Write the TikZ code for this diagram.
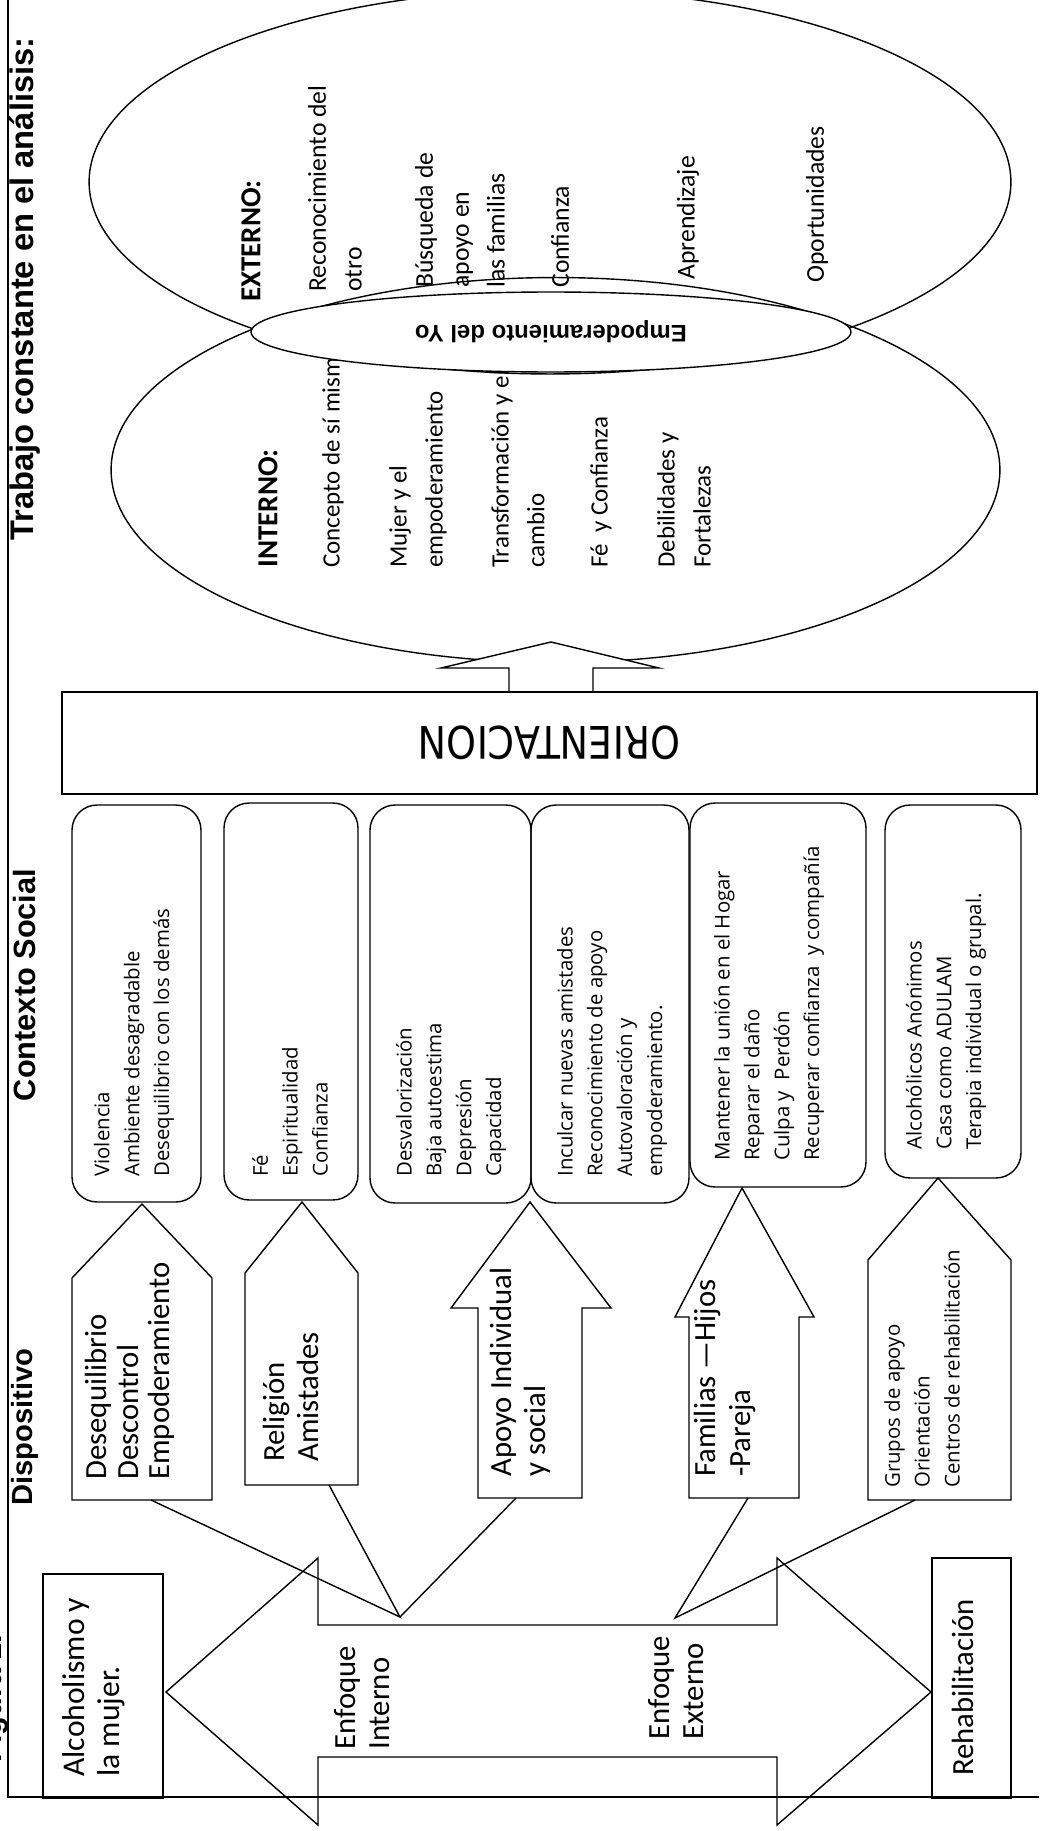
\documentclass[tikz,border=0pt]{standalone}
\usepackage{fontspec}
\setmainfont{Carlito}
\newfontfamily\listfont{Open Sans}
\newfontfamily\headfont{Liberation Sans}
\newfontfamily\orifont{DejaVu Sans}[FakeStretch=0.85]
\usetikzlibrary{shapes.geometric,positioning}
\tikzstyle{outline} = [draw=black, line width=0.8pt, line join=miter]
\tikzstyle{ctxbox} = [rectangle, rounded corners=0.5cm, draw=black, line width=0.8pt]
\tikzstyle{plainbox} = [rectangle, draw=black, line width=0.8pt]
\tikzstyle{bigoval} = [ellipse, draw=black, line width=0.8pt, inner sep=0pt]
\tikzstyle{uptext} = [rotate=90, anchor=west, align=left, inner sep=0pt]
\tikzstyle{listtext} = [uptext, font=\listfont\fontsize{11.6}{17}\selectfont]
\tikzstyle{ovaltext} = [uptext, font=\fontsize{14.6}{20.4}\selectfont]
\tikzstyle{ovalhead} = [uptext, font=\bfseries\fontsize{16.5}{20.4}\selectfont]
\tikzstyle{bigtext} = [uptext, font=\fontsize{17.5}{19.5}\selectfont]
\tikzstyle{headtext} = [rotate=90, inner sep=0pt, font=\headfont\bfseries\fontsize{17.5}{20}\selectfont]

\begin{document}
\begin{tikzpicture}[x=0.02cm, y=-0.02cm]
    \useasboundingbox (0,0) rectangle (1039,1831);
    % headings
    \node[headtext, font=\headfont\bfseries\fontsize{18.6}{22}\selectfont] (titulo) at (25,289) {Trabajo constante en el análisis:};
    \node[headtext] (contexto) at (25,985) {Contexto Social};
    \node[headtext, font=\headfont\bfseries\fontsize{16.6}{20}\selectfont] (dispositivo) at (25,1427) {Dispositivo};
    \node[headtext, anchor=base west] (figura) at (2,1763) {Figura 1.};

    % ovals
    \node[bigoval, minimum width=18.44cm, minimum height=7.68cm] (externo) at (550,182) {};
    \node[bigoval, minimum width=17.78cm, minimum height=7.7cm] (interno) at (555.5,470) {};
    \node[ovalhead] (extTitle) at (251,302) {EXTERNO:};
    \node[ovaltext] (extA) at (335,292) {Reconocimiento del\\otro};
    \node[ovaltext] (extB) at (460,288) {Búsqueda de\\apoyo en\\las familias};
    \node[ovaltext] (extC) at (560,288) {Confianza};
    \node[ovaltext] (extD) at (688,280) {Aprendizaje};
    \node[ovaltext] (extE) at (817,283) {Oportunidades};
    \node[ovalhead] (intTitle) at (268,568) {INTERNO:};
    \node[ovaltext, font=\fontsize{14.2}{20.4}\selectfont] (intA) at (333,568) {Concepto de sí mism};
    \node[ovaltext, font=\fontsize{14.2}{20.4}\selectfont] (intB) at (418,568) {Mujer y el\\empoderamiento};
    \node[ovaltext, font=\fontsize{14.2}{20.4}\selectfont] (intC) at (518,568) {Transformación y el\\cambio};
    \node[ovaltext, font=\fontsize{14.2}{20.4}\selectfont] (intD) at (601,568) {Fé\ \ y Confianza};
    \node[ovaltext, font=\fontsize{14.2}{20.4}\selectfont] (intE) at (684,568) {Debilidades y\\Fortalezas};
    \node[bigoval, fill=white, rotate=180, minimum width=12cm, minimum height=1.6cm, font=\headfont\bfseries\fontsize{13.6}{16}\selectfont] (yo) at (551,332) {Empoderamiento del Yo};

    % orientacion
    \draw[outline, fill=white] (509,692) -- (509,668) -- (441,668) -- (551,642) -- (659,668) -- (593,668) -- (593,692);
    \node[plainbox, rotate=180, minimum width=19.5cm, minimum height=2.04cm, font=\orifont\fontsize{25.5}{30}\selectfont] (orientacion) at (549.5,743) {ORIENTACION};

    % contexto social
    \node[ctxbox, minimum width=2.58cm, minimum height=7.94cm] (ctxA) at (136.5,1003.5) {};
    \node[ctxbox, minimum width=2.68cm, minimum height=7.94cm] (ctxB) at (291,1001.5) {};
    \node[ctxbox, minimum width=3.22cm, minimum height=7.96cm] (ctxC) at (450.5,1004) {};
    \node[ctxbox, minimum width=3.16cm, minimum height=7.96cm] (ctxD) at (610,1004) {};
    \node[ctxbox, minimum width=3.52cm, minimum height=7.68cm] (ctxE) at (778,995) {};
    \node[ctxbox, minimum width=2.72cm, minimum height=7.46cm] (ctxF) at (953,991.5) {};
    \node[listtext] (ctxAtext) at (134,1177) {Violencia\\Ambiente desagradable\\Desequilibrio con los demás};
    \node[listtext] (ctxBtext) at (290,1177) {Fé\\Espiritualidad\\Confianza};
    \node[listtext] (ctxCtext) at (451,1177) {Desvalorización\\Baja autoestima\\Depresión\\Capacidad};
    \node[listtext] (ctxDtext) at (612,1177) {Inculcar nuevas amistades\\Reconocimiento de apoyo\\Autovaloración y\\empoderamiento.};
    \node[listtext] (ctxEtext) at (769,1161) {Mantener la unión en el Hogar\\Reparar el daño\\Culpa y\ \ Perdón\\Recuperar confianza\ \ y compañía};
    \node[listtext] (ctxFtext) at (946,1150) {Alcohólicos Anónimos\\Casa como ADULAM\\Terapia individual o grupal.};

    % dispositivo
    \draw[outline] (72,1500) -- (212,1500) -- (212,1278) -- (142,1204) -- (72,1278) -- cycle;
    \draw[outline] (245,1485) -- (358,1485) -- (358,1273) -- (302,1202) -- (245,1273) -- cycle;
    \draw[outline] (478,1498) -- (582,1498) -- (582,1308) -- (611,1308) -- (530,1202) -- (451,1308) -- (478,1308) -- cycle;
    \draw[outline] (689,1498) -- (799,1498) -- (799,1317) -- (814,1317) -- (742,1188) -- (675,1317) -- (689,1317) -- cycle;
    \draw[outline] (868,1500) -- (1011,1500) -- (1011,1260) -- (938,1178) -- (868,1260) -- cycle;
    \node[bigtext, font=\fontsize{17.5}{18}\selectfont] (disA) at (130,1480) {Desequilibrio\\Descontrol\\Empoderamiento};
    \node[bigtext] (disB) at (291,1462) {Religión\\Amistades};
    \node[bigtext] (disC) at (520,1477) {Apoyo Individual\\y social};
    \node[bigtext] (disD) at (725,1477) {Familias —Hijos\\-Pareja};
    \node[listtext] (disE) at (922,1488) {Grupos de apoyo\\Orientación\\Centros de rehabilitación};

    % enfoque
    \node[plainbox, minimum width=2.4cm, minimum height=4.48cm] (alcohol) at (103,1686) {};
    \node[plainbox, minimum width=1.58cm, minimum height=4.8cm] (rehab) at (971.5,1678) {};
    \draw[outline, fill=white] (166,1692) -- (318,1558) -- (318,1625) -- (777,1625) -- (777,1558) -- (931,1692) -- (777,1825) -- (777,1757) -- (318,1757) -- (318,1825) -- cycle;
    \node[bigtext, font=\fontsize{18}{19.8}\selectfont] (alcoholText) at (93.5,1777) {Alcoholismo y\\la mujer.};
    \node[bigtext] (rehabText) at (963,1776) {Rehabilitación};
    \node[bigtext] (enfInt) at (362,1750) {Enfoque\\Interno};
    \node[bigtext] (enfExt) at (676,1740) {Enfoque\\Externo};

    \coordinate (hubL) at (400,1617);
    \coordinate (hubR) at (675,1618);
    \coordinate (disAfoot) at (151,1500);
    \coordinate (disBfoot) at (329,1485);
    \coordinate (disCfoot) at (516,1498);
    \coordinate (disDfoot) at (748,1498);
    \coordinate (disEfoot) at (915,1500);
    \draw[outline] (disAfoot) -- (hubL) -- (disBfoot);
    \draw[outline] (disCfoot) -- (hubL);
    \draw[outline] (disDfoot) -- (hubR) -- (disEfoot);

    % page rule
    \draw[line width=0.6pt] (8,0) -- (8,1797) -- (1039,1797);
\end{tikzpicture}
\end{document}
